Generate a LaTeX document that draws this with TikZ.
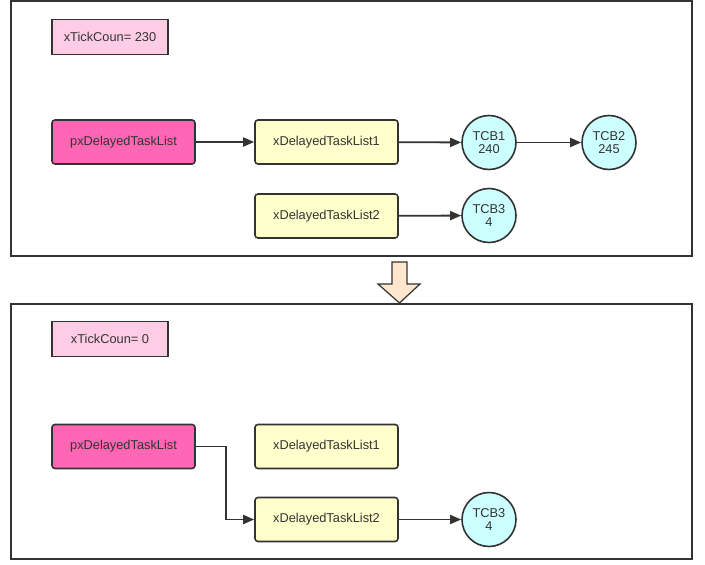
\documentclass[tikz,border=0pt]{standalone}
\usepackage{fontspec}
\setmainfont{Liberation Sans}
\usetikzlibrary{arrows.meta}
\definecolor{linegray}{HTML}{333333}
\definecolor{listpink}{HTML}{FF66B3}
\definecolor{tickpink}{HTML}{FFCCE6}
\definecolor{delayyellow}{HTML}{FFFFCC}
\definecolor{tcbcyan}{HTML}{CCFFFF}
\definecolor{peach}{HTML}{FFE6CC}
\begin{document}
\begin{tikzpicture}[x=1pt, y=-1pt, font=\fontsize{12.8}{13.5}\selectfont, text=linegray, >={Triangle[length=11pt,width=9pt]},
	frame/.style={draw=linegray, line width=1.6pt},
	tick/.style={draw=linegray, line width=1.6pt, fill=tickpink, minimum width=116pt, minimum height=35pt, inner sep=0pt},
	box/.style={draw=linegray, line width=1.6pt, rounded corners=3pt, minimum width=143pt, minimum height=44pt, inner sep=0pt},
	tcb/.style={circle, draw=linegray, line width=1.6pt, fill=tcbcyan, minimum size=54pt, inner sep=0pt, align=center},
	link/.style={->, draw=linegray, line width=1.8pt}]
	\useasboundingbox (0,0) rectangle (705,565);
	% before the tick
	\draw[frame] (11,1) rectangle (692,256);
	\node[tick] (tickA) at (110,37) {xTickCoun= 230};
	\node[box, fill=listpink] (listA) at (123.5,142) {pxDelayedTaskList};
	\foreach \n/\y in {1/142, 2/216}{
		\node[box, fill=delayyellow] (delayA\n) at (326.5,\y) {xDelayedTaskList\n};
	}
	\node[tcb] (tcbA1) at (489,142.5) {TCB1\\240};
	\node[tcb] (tcbA2) at (609,142.5) {TCB2\\245};
	\node[tcb] (tcbA3) at (489,215.5) {TCB3\\4};
	\draw[link] (listA) -- (delayA1);
	\draw[link] (delayA1) -- (tcbA1);
	\draw[link] (tcbA1) -- (tcbA2);
	\draw[link] (delayA2) -- (tcbA3);
	% overflow
	\draw[draw=linegray, line width=1.2pt, fill=peach, line join=miter] (392,262) -- (407,262) -- (407,284) -- (420,284) -- (399.5,303) -- (378,284) -- (392,284) -- cycle;
	% after the tick
	\draw[frame] (11,304) rectangle (692,559);
	\node[tick] (tickB) at (110,339) {xTickCoun= 0};
	\node[box, fill=listpink] (listB) at (123.5,446.5) {pxDelayedTaskList};
	\foreach \n/\y in {1/446.5, 2/519.5}{
		\node[box, fill=delayyellow] (delayB\n) at (326.5,\y) {xDelayedTaskList\n};
	}
	\node[tcb] (tcbB3) at (489,519.5) {TCB3\\4};
	\draw[link] (listB.east) -- ++(30,0) |- (delayB2.west);
	\draw[link] (delayB2) -- (tcbB3);
\end{tikzpicture}
\end{document}
